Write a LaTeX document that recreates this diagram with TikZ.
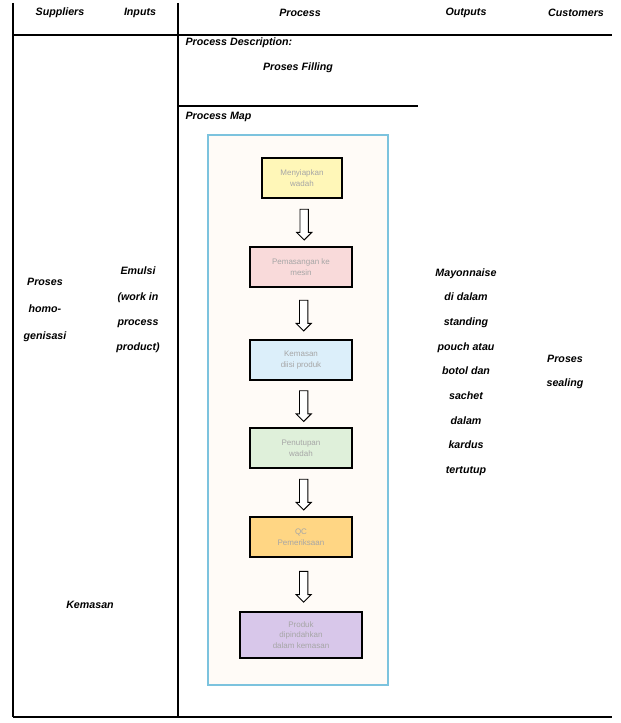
\documentclass[tikz,border=0pt]{standalone}
\usepackage{fontspec}
\setmainfont{Liberation Sans}
\usetikzlibrary{shapes.arrows, positioning, calc}

\definecolor{frameblue}{HTML}{7CC3DE}
\definecolor{yelfill}{HTML}{FFF7B8}
\definecolor{pinkfill}{HTML}{F9DADA}
\definecolor{bluefill}{HTML}{DCEFFA}
\definecolor{greenfill}{HTML}{DFF0DA}
\definecolor{orafill}{HTML}{FFD684}
\definecolor{purpfill}{HTML}{D8C7EA}

\begin{document}
\begin{tikzpicture}[x=0.75pt, y=-0.75pt, inner sep=1pt,
  every node/.style = {font=\fontsize{8}{11}\selectfont\bfseries\itshape, align=center},
  rule/.style = {line width=1.2pt},
  head/.style = {anchor=center},
  stepbox/.style = {draw=black, line width=1.3pt, minimum height=30pt,
    font=\fontsize{6}{8}\selectfont, text=black!35},
  downarrow/.style = {single arrow, draw=black, fill=white, line width=0.7pt,
    shape border rotate=270, minimum height=23pt, minimum width=11pt,
    single arrow head extend=2.5pt, inner sep=2.8pt}]
  \useasboundingbox (0,0) rectangle (620,723);
  % table lines
  \draw[rule] (13,3) -- (13,717);
  \draw[rule] (178,3) -- (178,717);
  \draw[rule] (13,35) -- (612,35);
  \draw[rule] (178,106) -- (418,106);
  \draw[rule] (13,717) -- (612,717);
  % headers
  \node[head] (supp) at (60,13) {Suppliers};
  \node[head] (inp) at (140,13) {Inputs};
  \node[head] (proc) at (300,13) {Process};
  \node[head] (outp) at (466,13) {Outputs};
  \node[head] (cust) at (576,13) {Customers};
  \node[anchor=west] (desc) at (184,43) {Process Description:};
  \node (fill) at (298,68) {Proses Filling};
  \node[anchor=west] (map) at (184,117) {Process Map};
  % process map
  \draw[frameblue, line width=1.3pt, fill=orange!3] (208,135) rectangle (388,685);
  \node[stepbox, fill=yelfill, minimum width=60pt] (s1) at (302,178) {Menyiapkan\\wadah};
  \node[stepbox, fill=pinkfill, minimum width=76pt] (s2) at (301,267) {Pemasangan ke\\mesin};
  \node[stepbox, fill=bluefill, minimum width=76pt] (s3) at (301,360) {Kemasan\\diisi produk};
  \node[stepbox, fill=greenfill, minimum width=76pt] (s4) at (301,448) {Penutupan\\wadah};
  \node[stepbox, fill=orafill, minimum width=76pt] (s5) at (301,537) {QC\\Pemeriksaan};
  \node[stepbox, fill=purpfill, minimum width=91pt, minimum height=34pt] (s6) at (301,635) {Produk\\dipindahkan\\dalam kemasan};
  \foreach \a/\b in {s1/s2, s2/s3, s3/s4, s4/s5, s5/s6}
    \path (\a) -- node[downarrow, pos=0.5, xshift=2pt] {} (\b);
  % side texts
  \node[font=\fontsize{8}{20}\selectfont\bfseries\itshape] (sup) at (45,310) {Proses\\homo-\\genisasi};
  \node[font=\fontsize{8}{19}\selectfont\bfseries\itshape] (in) at (138,310) {Emulsi\\(work in\\process\\product)};
  \node[font=\fontsize{8}{18.5}\selectfont\bfseries\itshape] (out) at (466,372) {Mayonnaise\\di dalam\\standing\\pouch atau\\botol dan\\sachet\\dalam\\kardus\\tertutup};
  \node[font=\fontsize{8}{18.5}\selectfont\bfseries\itshape] (cus) at (565,372) {Proses\\sealing};
  \node (kem) at (90,605) {Kemasan};
\end{tikzpicture}
\end{document}
